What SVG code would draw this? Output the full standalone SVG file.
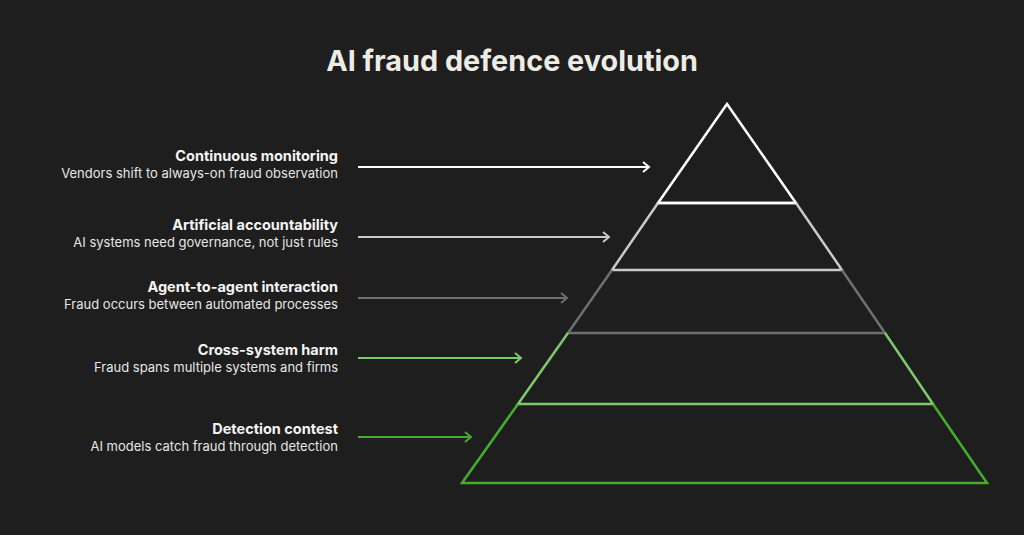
<svg xmlns="http://www.w3.org/2000/svg" width="1024" height="535" viewBox="0 0 1024 535">
<style>
.t{font-family:Inter,"Liberation Sans",sans-serif;font-weight:700;font-size:14.5px;fill:#f4f4f4;text-anchor:end}
.s{font-family:Inter,"Liberation Sans",sans-serif;font-size:13px;fill:#e6e6e6;text-anchor:end}
.l{fill:none;stroke-width:2.5;stroke-linejoin:miter}
.a{fill:none;stroke-width:2}
</style>
<rect width="1024" height="535" fill="#1e1e1e"/>
<text x="512" y="71" font-family="Inter,'Liberation Sans',sans-serif" font-weight="700" font-size="28.8" fill="#ecebe4" text-anchor="middle">AI fraud defence evolution</text>
<g id="pyramid">
<path class="l" stroke="#ffffff" d="M658 203 L727 104 L796 203 Z"/>
<path class="l" stroke="#c9c9c9" d="M658 203 L612 270 L842 270 L796 203"/>
<path class="l" stroke="#6f6f6f" d="M612 270 L568 333 L885 333 L842 270"/>
<path class="l" stroke="#7fc96d" d="M568 333 L518 404 L933 404 L885 333"/>
<path class="l" stroke="#45ad2e" d="M518 404 L462 483 L987 483 L933 404"/>
<line stroke="#ffffff" stroke-width="2.5" x1="658" y1="203" x2="796" y2="203"/>
</g>
<g id="connectors">
<g stroke="#ffffff"><line class="a" x1="358" y1="167" x2="649" y2="167"/><path class="a" d="M643 162 L649 167 L643 172"/></g>
<g stroke="#c9c9c9"><line class="a" x1="358" y1="237" x2="609" y2="237"/><path class="a" d="M603 232 L609 237 L603 242"/></g>
<g stroke="#6f6f6f"><line class="a" x1="358" y1="298" x2="567" y2="298"/><path class="a" d="M561 293 L567 298 L561 303"/></g>
<g stroke="#7fc96d"><line class="a" x1="358" y1="358" x2="521" y2="358"/><path class="a" d="M515 353 L521 358 L515 363"/></g>
<g stroke="#45ad2e"><line class="a" x1="358" y1="437" x2="471" y2="437"/><path class="a" d="M465 432 L471 437 L465 442"/></g>
</g>
<g id="n1"><text class="t" x="338" y="161">Continuous monitoring</text><text class="s" x="338" y="178">Vendors shift to always-on fraud observation</text></g>
<g id="n2"><text class="t" x="338" y="230">Artificial accountability</text><text class="s" x="338" y="247">AI systems need governance, not just rules</text></g>
<g id="n3"><text class="t" x="338" y="292">Agent-to-agent interaction</text><text class="s" x="338" y="309">Fraud occurs between automated processes</text></g>
<g id="n4"><text class="t" x="338" y="355">Cross-system harm</text><text class="s" x="338" y="372">Fraud spans multiple systems and firms</text></g>
<g id="n5"><text class="t" x="338" y="434">Detection contest</text><text class="s" x="338" y="451">AI models catch fraud through detection</text></g>
</svg>
